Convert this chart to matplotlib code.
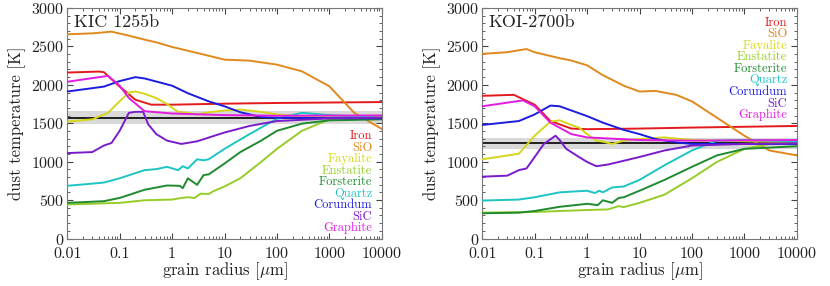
import numpy as np
import matplotlib
matplotlib.use('Agg')
import matplotlib.pyplot as plt
from matplotlib.ticker import FixedLocator, FixedFormatter, MultipleLocator, LogLocator, NullFormatter

plt.rcParams['font.family'] = ['cmr10', 'DejaVu Serif']
plt.rcParams['mathtext.fontset'] = 'cm'
plt.rcParams['axes.formatter.use_mathtext'] = True

species = ['Iron', 'SiO', 'Fayalite', 'Enstatite', 'Forsterite', 'Quartz', 'Corundum', 'SiC', 'Graphite']
colors = ['#e31a1c', '#e0891c', '#d6d61a', '#96cc28', '#1f8a2e', '#1cc4c4', '#1c1ce0', '#7a1ccc', '#e01ce0']

# ---- KIC 1255b ----
kic_T = 1575
kic_band = (1490, 1660)
kic = {
    'Iron': ([0.01, 0.04, 0.05, 0.1, 0.2, 0.4, 1, 10, 100, 10000],
             [2160, 2173, 2165, 1977, 1806, 1742, 1742, 1755, 1764, 1776]),
    'SiO': ([0.01, 0.03, 0.07, 0.15, 0.3, 0.5, 1, 3, 10, 30, 100, 300, 1000, 3000, 10000],
            [2658, 2670, 2692, 2640, 2588, 2553, 2493, 2415, 2328, 2315, 2263, 2176, 1981, 1634, 1426]),
    'Fayalite': ([0.01, 0.03, 0.06, 0.1, 0.15, 0.2, 0.3, 0.5, 0.8, 1.3, 2, 3, 5, 10, 20, 50, 100, 300, 10000],
                 [1521, 1551, 1636, 1785, 1900, 1913, 1883, 1828, 1751, 1649, 1636, 1615, 1644, 1666, 1678, 1649, 1615, 1585, 1563]),
    'Enstatite': ([0.01, 0.1, 0.3, 1, 1.5, 2, 2.7, 3.5, 5, 6, 10, 20, 50, 100, 300, 1000, 3000, 10000],
                  [443, 464, 498, 507, 528, 537, 528, 584, 579, 613, 677, 784, 997, 1167, 1402, 1551, 1585, 1593]),
    'Forsterite': ([0.01, 0.05, 0.1, 0.3, 0.8, 1.4, 1.6, 2, 3, 4, 5, 10, 20, 50, 100, 300, 1000, 10000],
                   [464, 486, 528, 635, 690, 686, 656, 784, 699, 826, 835, 976, 1125, 1274, 1402, 1495, 1538, 1551]),
    'Quartz': ([0.01, 0.05, 0.1, 0.3, 0.5, 0.8, 1.3, 1.6, 2, 3, 4, 5, 10, 30, 100, 300, 1000, 10000],
               [686, 728, 784, 890, 903, 933, 890, 941, 912, 1031, 1018, 1031, 1167, 1359, 1559, 1636, 1606, 1572]),
    'Corundum': ([0.01, 0.05, 0.1, 0.2, 0.3, 1, 2, 5, 10, 20, 50, 100, 10000],
                 [1913, 1977, 2049, 2100, 2083, 1989, 1891, 1785, 1721, 1644, 1580, 1572, 1563]),
    'SiC': ([0.01, 0.03, 0.05, 0.07, 0.1, 0.15, 0.2, 0.28, 0.35, 0.5, 0.8, 1.5, 3, 10, 30, 100, 1000, 10000],
            [1112, 1125, 1210, 1244, 1402, 1636, 1649, 1649, 1487, 1359, 1274, 1231, 1265, 1380, 1465, 1529, 1563, 1572]),
    'Graphite': ([0.01, 0.06, 0.1, 0.15, 0.3, 1, 10, 100, 10000],
                 [2040, 2117, 1989, 1828, 1657, 1627, 1606, 1598, 1602]),
}

# ---- KOI-2700b ----
koi_T = 1240
koi_band = (1167, 1304)
koi = {
    'Iron': ([0.01, 0.04, 0.1, 0.2, 0.5, 1, 10, 100, 10000],
             [1857, 1870, 1742, 1529, 1431, 1423, 1431, 1444, 1465]),
    'SiO': ([0.01, 0.03, 0.07, 0.1, 0.3, 0.5, 1, 2, 5, 10, 20, 50, 100, 300, 1000, 3000, 10000],
            [2403, 2425, 2466, 2424, 2347, 2317, 2254, 2126, 1989, 1913, 1921, 1870, 1785, 1572, 1338, 1146, 1082]),
    'Fayalite': ([0.01, 0.05, 0.1, 0.2, 0.3, 0.5, 0.7, 1, 1.5, 2, 3, 5, 10, 30, 100, 10000],
                 [1031, 1103, 1338, 1521, 1538, 1478, 1444, 1359, 1274, 1261, 1231, 1274, 1295, 1316, 1282, 1252]),
    'Enstatite': ([0.01, 0.1, 0.3, 1, 2.5, 4, 5, 10, 30, 100, 300, 1000, 3000, 10000],
                  [337, 345, 358, 371, 379, 422, 409, 464, 571, 784, 997, 1167, 1231, 1244]),
    'Forsterite': ([0.01, 0.05, 0.1, 0.3, 1, 1.6, 2, 3, 4, 5, 10, 30, 100, 300, 1000, 10000],
                   [328, 337, 358, 413, 452, 435, 498, 464, 528, 537, 622, 763, 933, 1082, 1167, 1201]),
    'Quartz': ([0.01, 0.05, 0.1, 0.3, 1, 1.4, 1.7, 2, 3, 5, 10, 30, 100, 300, 1000, 10000],
               [494, 507, 537, 601, 622, 592, 622, 601, 665, 677, 763, 954, 1146, 1274, 1282, 1265]),
    'Corundum': ([0.01, 0.05, 0.1, 0.2, 0.3, 1, 2, 5, 10, 20, 50, 100, 10000],
                 [1478, 1529, 1615, 1730, 1721, 1593, 1508, 1414, 1359, 1295, 1252, 1231, 1231]),
    'SiC': ([0.01, 0.03, 0.05, 0.07, 0.1, 0.15, 0.25, 0.3, 0.4, 0.7, 1, 1.5, 2.5, 10, 30, 100, 1000, 10000],
            [805, 818, 890, 912, 1061, 1231, 1338, 1282, 1167, 1061, 997, 941, 963, 1061, 1146, 1210, 1231, 1240]),
    'Graphite': ([0.01, 0.06, 0.1, 0.2, 0.5, 1, 10, 100, 10000],
                 [1721, 1798, 1721, 1508, 1359, 1316, 1282, 1274, 1282]),
}

xticks = [0.01, 0.1, 1, 10, 100, 1000, 10000]
xticklabels = ['0.01', '0.1', '1', '10', '100', '1000', '10000']


def panel(ax, data, T, band, name, legend_top):
    ax.axhspan(band[0], band[1], color='#d9d9d9', lw=0, zorder=1)
    ax.axhline(T, color='black', lw=1.2, zorder=2)
    for sp, c in zip(species, colors):
        x, y = data[sp]
        ax.plot(x, y, color=c, lw=1.4, zorder=3)
    ax.set_xscale('log')
    ax.set_xlim(0.01, 10000)
    ax.set_ylim(0, 3000)
    ax.xaxis.set_major_locator(FixedLocator(xticks))
    ax.xaxis.set_major_formatter(FixedFormatter(xticklabels))
    ax.xaxis.set_minor_locator(LogLocator(base=10, subs=np.arange(2, 10), numticks=20))
    ax.xaxis.set_minor_formatter(NullFormatter())
    ax.yaxis.set_major_locator(MultipleLocator(500))
    ax.yaxis.set_minor_locator(MultipleLocator(100))
    ax.tick_params(which='both', direction='in', top=True, right=True, labelsize=11.5,
                   colors='#444444', labelcolor='#222222')
    ax.tick_params(which='major', length=4)
    ax.tick_params(which='minor', length=2)
    ax.tick_params(axis='x', which='major', pad=6)
    ax.tick_params(axis='y', which='major', pad=2)
    for s in ax.spines.values():
        s.set_color('#777777')
    ax.set_xlabel(r'grain radius [$\mu$m]', fontsize=12, color='#222222', labelpad=0)
    ax.set_ylabel('dust temperature [K]', fontsize=12, color='#222222', labelpad=4)
    ax.text(0.02, 0.97, name, transform=ax.transAxes, fontsize=13, ha='left', va='top', color='#222222')
    for i, (sp, c) in enumerate(zip(species, colors)):
        ax.text(0.97, legend_top - i * 0.05, sp, transform=ax.transAxes, color=c,
                fontsize=9, ha='right', va='center')


fig = plt.figure(figsize=(8.3, 2.86), dpi=100)
ax1 = fig.add_axes([0.081, 0.166, 0.379, 0.806])
ax2 = fig.add_axes([0.581, 0.166, 0.379, 0.806])
panel(ax1, kic, kic_T, kic_band, 'KIC 1255b', 0.444)
panel(ax2, koi, koi_T, koi_band, 'KOI-2700b', 0.936)

fig.savefig('out.png', dpi=100)
